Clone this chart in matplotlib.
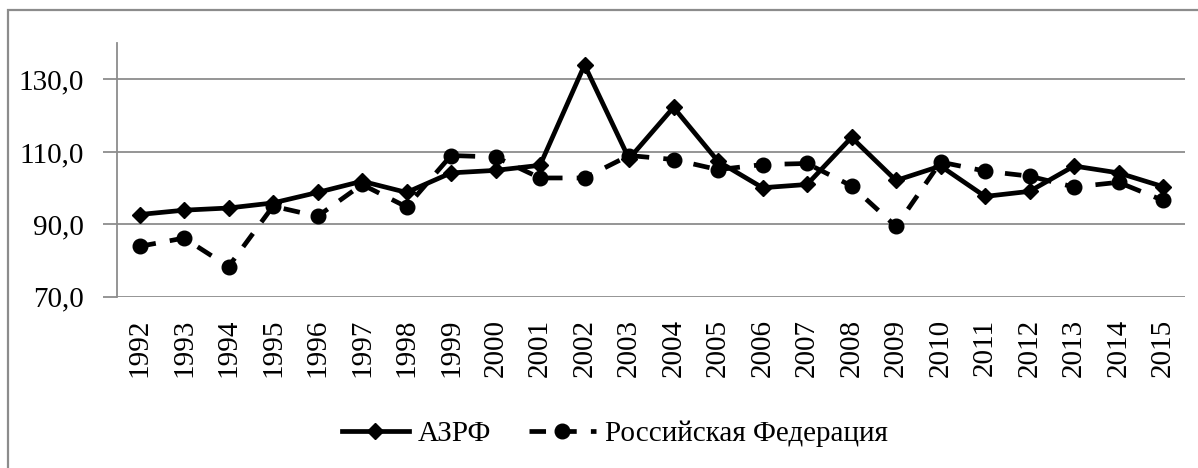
import os
import glob
import matplotlib
matplotlib.use("Agg")
import matplotlib.pyplot as plt
from matplotlib import font_manager
from matplotlib.ft2font import FT2Font
from matplotlib.patches import Rectangle

years = [str(y) for y in range(1992, 2016)]
azrf = [92.7, 93.9, 94.5, 95.9, 98.8, 101.9, 98.8, 104.2, 104.9, 106.3, 134.0,
        108.1, 122.3, 107.4, 100.1, 101.0, 114.0, 102.1, 106.1, 97.7, 99.1,
        106.1, 104.2, 100.4]
russia = [83.9, 86.2, 78.3, 95.0, 92.2, 101.0, 94.8, 109.0, 108.6, 102.8, 102.8,
          109.0, 107.9, 105.1, 106.5, 106.8, 100.6, 89.4, 107.2, 104.7, 103.3,
          100.3, 101.6, 96.6]
y_ticks = [70, 90, 110, 130]
y_labels = ["70,0", "90,0", "110,0", "130,0"]


def has_cyrillic(path):
    try:
        cmap = FT2Font(path).get_charmap()
        return all(ord(c) in cmap for c in "АЗРФйя0")
    except Exception:
        return False


def pick_serif():
    """Find a Times-like regular serif face that covers Cyrillic."""
    files = [f.fname for f in font_manager.fontManager.ttflist]
    for d in ["/usr/share/fonts", "/usr/local/share/fonts",
              os.path.expanduser("~/.fonts"),
              os.path.join(matplotlib.get_data_path(), "fonts", "ttf")]:
        files += glob.glob(os.path.join(d, "**", "*.[ot]tf"), recursive=True)
    preferred = ["LiberationSerif-Regular", "Times", "Tinos-Regular",
                 "NimbusRoman", "STIXGeneral.ttf", "FreeSerif.", "NotoSerif-Regular",
                 "DejaVuSerif.ttf"]
    for key in preferred:
        for path in files:
            if key.lower() in os.path.basename(path).lower() and has_cyrillic(path):
                return path
    return os.path.join(matplotlib.get_data_path(), "fonts", "ttf", "DejaVuSerif.ttf")


serif_path = pick_serif()
font_manager.fontManager.addfont(serif_path)
serif_name = font_manager.FontProperties(fname=serif_path).get_name()
plt.rcParams["font.family"] = [serif_name, "DejaVu Serif"]

W, H = 1198, 468
fig = plt.figure(figsize=(W / 100, H / 100), dpi=100)
fig.patch.set_facecolor("white")

# outer chart frame
frame = Rectangle((8 / W, -0.1), 1.2, 1 - 10 / H + 0.1, transform=fig.transFigure,
                  fill=False, edgecolor="#8c8c8c", linewidth=1.6)
fig.add_artist(frame)

ax = fig.add_axes([117.3 / W, 1 - 296.7 / H, (1185.3 - 117.3) / W, (296.7 - 43.3) / H])
x = list(range(len(years)))

grid_color = "#8c8c8c"
for v in y_ticks:
    ax.axhline(v, color=grid_color, linewidth=1.3, zorder=1)

ax.plot(x, azrf, color="black", linewidth=3.4, marker="D", markersize=8.5,
        label="АЗРФ", zorder=4)
ax.plot(x, russia, color="black", linewidth=3.4, linestyle=(0, (3.5, 3)),
        marker="o", markersize=10.5, label="Российская Федерация", zorder=3)

ax.set_xlim(-0.5, len(years) - 0.5)
ax.set_ylim(70, 140)
ax.set_yticks(y_ticks)
ax.set_yticklabels(y_labels, fontsize=21)
ax.set_xticks(x)
ax.set_xticklabels(years, rotation=90, fontsize=21)
ax.tick_params(axis="y", length=10, width=1.3, color=grid_color, pad=14)
ax.tick_params(axis="x", length=0, pad=16)

for side in ["top", "right", "bottom"]:
    ax.spines[side].set_visible(False)
ax.spines["left"].set_color(grid_color)
ax.spines["left"].set_linewidth(1.3)

leg = fig.legend(loc="center", bbox_to_anchor=(614.5 / W, 1 - 434 / H), ncol=2,
                 frameon=False, fontsize=21, handlelength=2.3, handletextpad=0.3,
                 columnspacing=1.3)

fig.savefig("out.png", dpi=100, facecolor="white")
